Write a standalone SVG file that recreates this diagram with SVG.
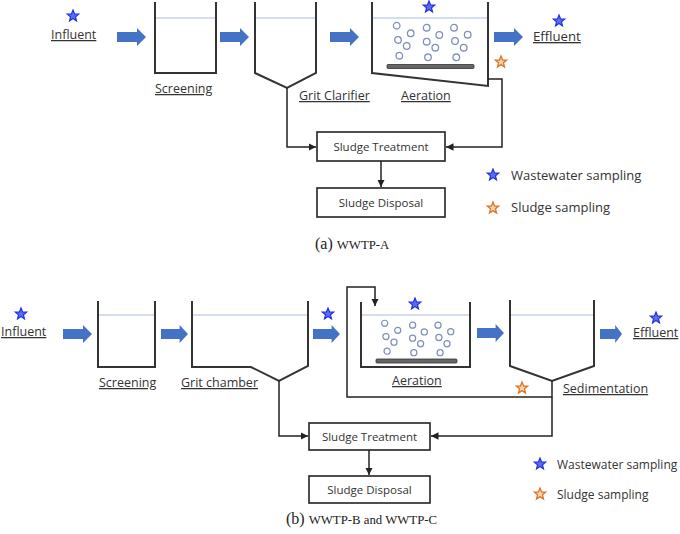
<svg xmlns="http://www.w3.org/2000/svg" xmlns:xlink="http://www.w3.org/1999/xlink" width="680" height="534" viewBox="0 0 680 534">
<style>
.bg{fill:#ffffff}
.tank{fill:none;stroke:#333;stroke-width:2;stroke-linejoin:miter}
.water{stroke:#a9bde0;stroke-width:1.2}
.bub{fill:none;stroke:#8090b8;stroke-width:1.3}
.bar{fill:#666;stroke:#333;stroke-width:0.8}
.lbl{font-family:"Open Sans","Noto Sans",sans-serif;font-size:12.5px;fill:#333;text-decoration:underline}
.boxt{font-family:"Open Sans","Noto Sans",sans-serif;font-size:11.5px;fill:#333}
.leg{font-family:"Open Sans","Noto Sans",sans-serif;font-size:13px;fill:#333}
.legb{font-family:"Open Sans","Noto Sans",sans-serif;font-size:12px;fill:#333}
.box{fill:#fff;stroke:#222;stroke-width:1.6}
.conn{fill:none;stroke:#222;stroke-width:1.5}
.cap1{font-family:"Liberation Serif",serif;font-size:16px;fill:#222}
.cap2{font-family:"Liberation Serif",serif;font-size:12.8px;fill:#222}
.barrow{fill:#4472c4}
.bstar{fill:#5a6cf5;stroke:#2233dd;stroke-width:1.2}
.ostar{fill:#f6d3b0;stroke:#d9772b;stroke-width:1.3}
</style>
<defs>
<marker id="ah" viewBox="0 0 10 10" refX="10" refY="5" markerWidth="5" markerHeight="5" orient="auto">
<path d="M0,0 L10,5 L0,10 Z" fill="#222"/>
</marker>
<path id="blk" d="M0,-5 H20 V-9 L29,0 L20,9 V5 H0 Z"/>
<path id="star" d="M0,-6 L1.6,-2 L5.7,-1.9 L2.5,0.8 L3.5,5 L0,2.6 L-3.5,5 L-2.5,0.8 L-5.7,-1.9 L-1.6,-2 Z"/>
<g id="bubA">
<circle cx="0" cy="0" r="3.3"/>
<circle cx="14" cy="7.6" r="3.3"/>
<circle cx="30" cy="2" r="3.3"/>
<circle cx="42.6" cy="9.3" r="3.3"/>
<circle cx="57.3" cy="2" r="3.3"/>
<circle cx="71" cy="9" r="3.3"/>
<circle cx="1.3" cy="14.3" r="3.3"/>
<circle cx="10" cy="20.3" r="3.3"/>
<circle cx="30" cy="16" r="3.3"/>
<circle cx="38.6" cy="22" r="3.3"/>
<circle cx="58.3" cy="15.3" r="3.3"/>
<circle cx="67" cy="22" r="3.3"/>
<circle cx="2.6" cy="30" r="3.3"/>
<circle cx="31.3" cy="31.6" r="3.3"/>
<circle cx="59.6" cy="31.6" r="3.3"/>
</g>
</defs>
<rect class="bg" x="0" y="0" width="680" height="534"/>

<!-- ===== Panel A ===== -->
<g id="a-influent">
<use href="#star" class="bstar" x="73" y="16"/>
<text class="lbl" x="51" y="39">Influent</text>
</g>
<g id="a-screening">
<path class="tank" d="M155,2 V73 H216 V2"/>
<line class="water" x1="156" y1="18" x2="215" y2="18"/>
<text class="lbl" x="155" y="93">Screening</text>
</g>
<g id="a-grit">
<path class="tank" d="M255,2 V73 L287,88 L316,73 V2"/>
<line class="water" x1="256" y1="18" x2="315" y2="18"/>
<text class="lbl" x="299" y="100">Grit Clarifier</text>
</g>
<g id="a-aeration">
<path class="tank" d="M372,2 V73 L488,86 V2"/>
<line class="water" x1="373" y1="18" x2="487" y2="18"/>
<use href="#bubA" class="bub" x="396.7" y="25.7"/>
<rect class="bar" x="387" y="64.5" width="87" height="4" rx="1"/>
<use href="#star" class="bstar" x="429" y="7"/>
<text class="lbl" x="401" y="100">Aeration</text>
</g>
<g id="a-effluent">
<use href="#star" class="bstar" x="559" y="21"/>
<text class="lbl" x="533" y="41" style="font-size:13.2px">Effluent</text>
</g>
<g id="a-sludge-star">
<use href="#star" class="ostar" x="501" y="62"/>
</g>
<g id="a-sludge-treatment">
<rect class="box" x="317" y="132" width="128" height="29"/>
<text class="boxt" x="381" y="151" text-anchor="middle">Sludge Treatment</text>
</g>
<g id="a-sludge-disposal">
<rect class="box" x="317" y="188" width="128" height="29"/>
<text class="boxt" x="381" y="207" text-anchor="middle">Sludge Disposal</text>
</g>
<g id="a-legend">
<use href="#star" class="bstar" x="493" y="175"/>
<text class="leg" x="511" y="180">Wastewater sampling</text>
<use href="#star" class="ostar" x="493" y="208"/>
<text class="leg" x="511" y="212">Sludge sampling</text>
</g>
<g id="a-caption">
<text x="315" y="249"><tspan class="cap1">(a) </tspan><tspan class="cap2">WWTP-A</tspan></text>
</g>
<g id="a-connectors">
<use href="#blk" class="barrow" x="117" y="37"/>
<use href="#blk" class="barrow" x="220" y="37"/>
<use href="#blk" class="barrow" x="330" y="37"/>
<use href="#blk" class="barrow" x="494" y="37"/>
<path class="conn" d="M287,88 V147 H316" marker-end="url(#ah)"/>
<path class="conn" d="M488,79 H502 V147 H446" marker-end="url(#ah)"/>
<path class="conn" d="M381,161 V187" marker-end="url(#ah)"/>
</g>

<!-- ===== Panel B ===== -->
<g id="b-influent">
<use href="#star" class="bstar" x="21" y="314"/>
<text class="lbl" x="1" y="336">Influent</text>
</g>
<g id="b-screening">
<path class="tank" d="M98,301 V367 H155 V301"/>
<line class="water" x1="99" y1="315" x2="154" y2="315"/>
<text class="lbl" x="99" y="387">Screening</text>
</g>
<g id="b-grit">
<path class="tank" d="M192,301 V367 H251 L279,381 L308,366 V301"/>
<line class="water" x1="193" y1="315" x2="307" y2="315"/>
<text class="lbl" x="181" y="387">Grit chamber</text>
</g>
<g id="b-star-grit">
<use href="#star" class="bstar" x="328" y="314"/>
</g>
<g id="b-aeration">
<path class="tank" d="M361,302 V367 H470 V302"/>
<line class="water" x1="362" y1="315" x2="469" y2="315"/>
<use href="#bubA" class="bub" transform="translate(384.7,323.3) scale(0.93)"/>
<rect class="bar" x="376" y="359" width="81" height="4" rx="1"/>
<use href="#star" class="bstar" x="415" y="304"/>
<text class="lbl" x="392" y="385">Aeration</text>
</g>
<g id="b-sedimentation">
<path class="tank" d="M510,300 V366 L552,381 L594,366 V300"/>
<line class="water" x1="511" y1="315" x2="593" y2="315"/>
<text class="lbl" x="563" y="393">Sedimentation</text>
</g>
<g id="b-sludge-star">
<use href="#star" class="ostar" x="522" y="388"/>
</g>
<g id="b-effluent">
<use href="#star" class="bstar" x="656" y="318"/>
<text class="lbl" x="633" y="337">Effluent</text>
</g>
<g id="b-sludge-treatment">
<rect class="box" x="309" y="423" width="121" height="27"/>
<text class="boxt" x="369.5" y="441" text-anchor="middle">Sludge Treatment</text>
</g>
<g id="b-sludge-disposal">
<rect class="box" x="309" y="476" width="121" height="27"/>
<text class="boxt" x="369.5" y="494" text-anchor="middle">Sludge Disposal</text>
</g>
<g id="b-legend">
<use href="#star" class="bstar" x="540" y="464"/>
<text class="legb" x="557" y="469">Wastewater sampling</text>
<use href="#star" class="ostar" x="540" y="494"/>
<text class="legb" x="557" y="499">Sludge sampling</text>
</g>
<g id="b-caption">
<text x="286" y="524"><tspan class="cap1">(b) </tspan><tspan class="cap2">WWTP-B and WWTP-C</tspan></text>
</g>
<g id="b-connectors">
<use href="#blk" class="barrow" x="63" y="334"/>
<use href="#blk" class="barrow" transform="translate(161,334) scale(0.93,1)"/>
<use href="#blk" class="barrow" transform="translate(313,334) scale(0.93,1)"/>
<use href="#blk" class="barrow" transform="translate(477,333) scale(0.93,1)"/>
<use href="#blk" class="barrow" transform="translate(600,334) scale(0.76,1)"/>
<path class="conn" d="M552,381 V397 H347 V287 H375 V306" marker-end="url(#ah)"/>
<path class="conn" d="M552,397 V436 H431" marker-end="url(#ah)"/>
<path class="conn" d="M279,381 V436 H308" marker-end="url(#ah)"/>
<path class="conn" d="M369,450 V475" marker-end="url(#ah)"/>
</g>
</svg>
